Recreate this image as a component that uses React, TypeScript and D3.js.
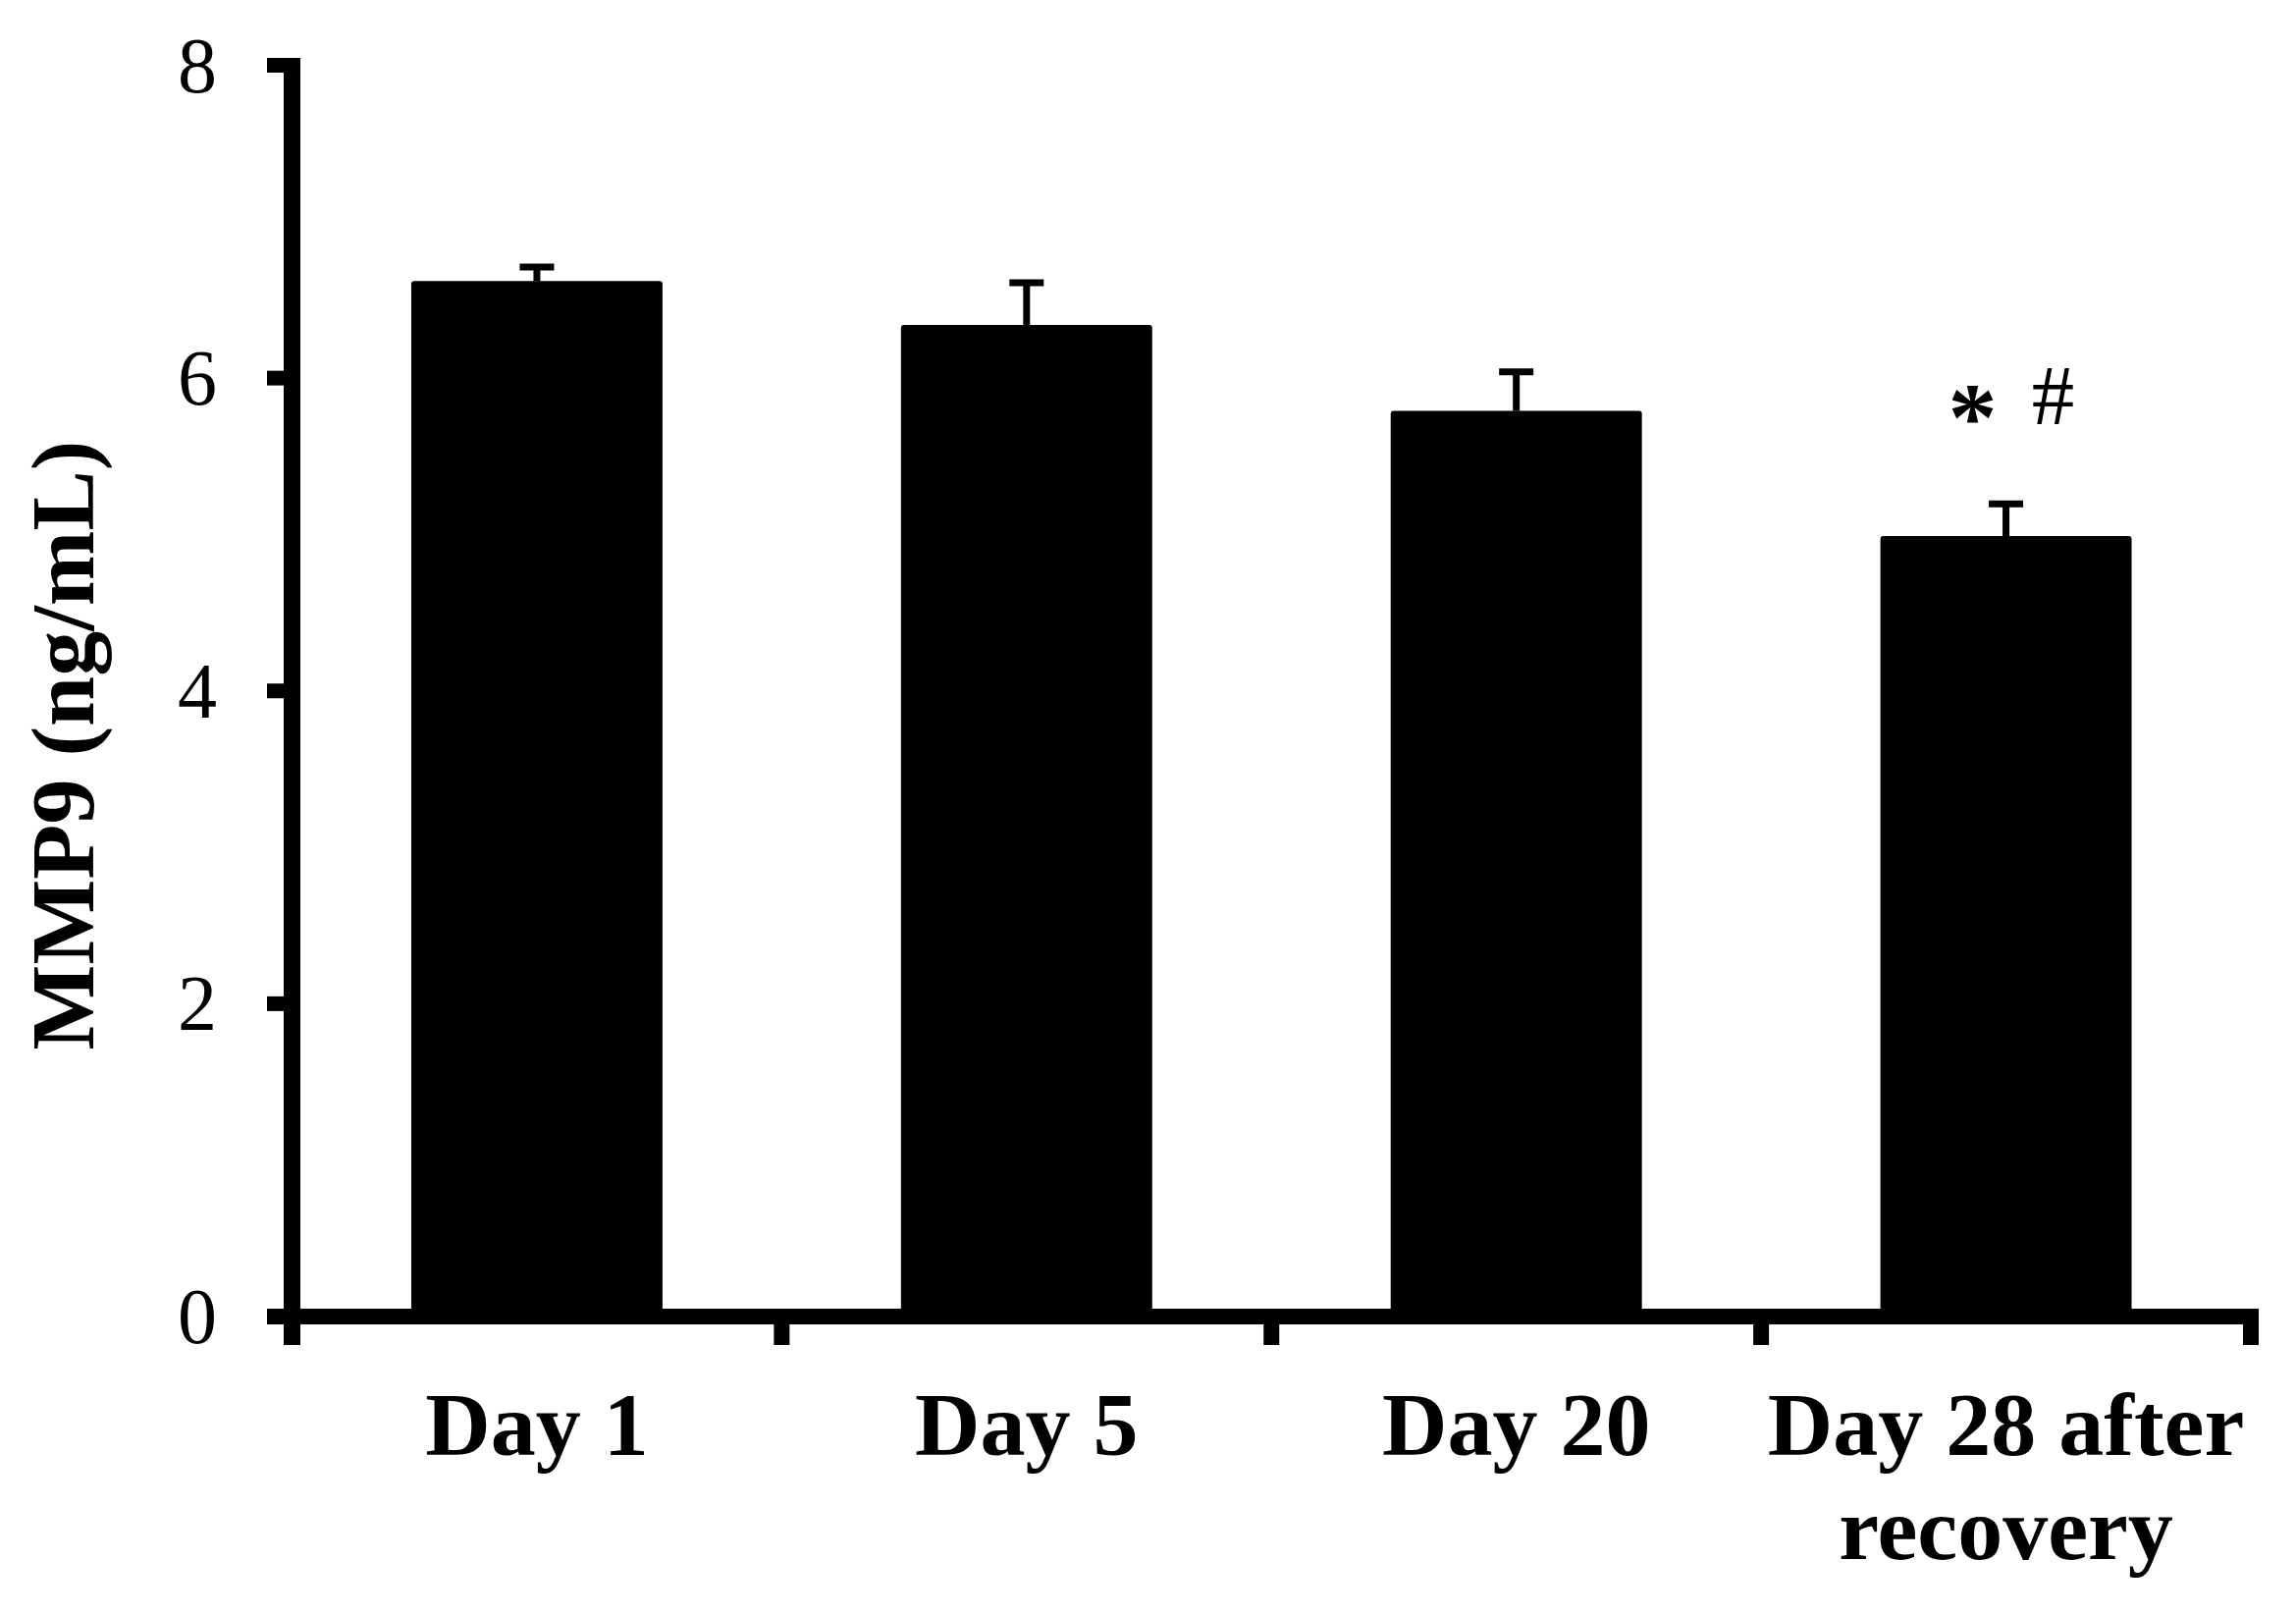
import React from "react";
import * as d3 from "d3";

const categories: string[][] = [["Day 1"], ["Day 5"], ["Day 20"], ["Day 28 after", "recovery"]];
const means: number[] = [6.62, 6.34, 5.79, 4.99];
const errors: number[] = [0.09, 0.27, 0.25, 0.205];
const yTicks: number[] = [0, 2, 4, 6, 8];
const yTitle = "MMP9 (ng/mL)";
const annotation = { index: 3, star: "*", hash: "#" };

const W = 2339;
const H = 1644;
const FONT = "'Liberation Serif', 'Times New Roman', serif";

export default function App() {
  const keys = categories.map((c, i) => String(i));
  const x = d3
    .scaleBand<string>()
    .domain(keys)
    .range([297.5, 2293])
    .paddingInner(0.487)
    .paddingOuter(0.2435);
  const step = x.step();
  const y = d3.scaleLinear().domain([0, 8]).range([1341, 66.5]);
  const boundaries = d3.range(categories.length + 1).map((i) => 297.5 + i * step);

  const annX = (x(String(annotation.index)) as number) + x.bandwidth() / 2;

  return (
    <svg
      width={W}
      height={H}
      viewBox={`0 0 ${W} ${H}`}
      style={{ position: "absolute", left: 0, top: 0, display: "block", background: "#fff" }}
    >
      <rect x={0} y={0} width={W} height={H} fill="#fff" />
      {/* bars */}
      {means.map((m, i) => {
        const bx = x(String(i)) as number;
        return (
          <rect
            key={"b" + i}
            x={bx}
            y={y(m)}
            width={x.bandwidth()}
            height={y(0) - y(m)}
            rx={3}
            fill="#000"
          />
        );
      })}
      {/* error bars */}
      {means.map((m, i) => {
        const cx = (x(String(i)) as number) + x.bandwidth() / 2;
        const top = y(m + errors[i]);
        return (
          <g key={"e" + i} stroke="#000" strokeWidth={7}>
            <line x1={cx} x2={cx} y1={y(m)} y2={top} />
            <line x1={cx - 17.5} x2={cx + 17.5} y1={top} y2={top} />
          </g>
        );
      })}
      {/* y axis */}
      <line x1={297.5} x2={297.5} y1={66.5 - 7.5} y2={1370} stroke="#000" strokeWidth={17} />
      {yTicks.map((t) => (
        <line key={"yt" + t} x1={272} x2={298} y1={y(t)} y2={y(t)} stroke="#000" strokeWidth={15} />
      ))}
      {yTicks.map((t) => (
        <text
          key={"yl" + t}
          x={221}
          y={y(t) + 27}
          textAnchor="end"
          fontFamily={FONT}
          fontSize={80}
          fill="#000"
        >
          {t}
        </text>
      ))}
      {/* x axis */}
      <line x1={272} x2={2301} y1={1341} y2={1341} stroke="#000" strokeWidth={16} />
      {boundaries.map((bx, i) => (
        <line key={"xt" + i} x1={bx} x2={bx} y1={1341} y2={1370} stroke="#000" strokeWidth={16} />
      ))}
      {/* x labels */}
      {categories.map((lines, i) => {
        const cx = (x(String(i)) as number) + x.bandwidth() / 2;
        return (
          <text
            key={"xl" + i}
            textAnchor="middle"
            fontFamily={FONT}
            fontWeight="bold"
            fontSize={92}
            fill="#000"
          >
            {lines.map((ln, j) => (
              <tspan key={j} x={cx} y={1482 + j * 106}>
                {ln}
              </tspan>
            ))}
          </text>
        );
      })}
      {/* y title */}
      <text
        transform={`translate(95, 759) rotate(-90)`}
        textAnchor="middle"
        fontFamily={FONT}
        fontWeight="bold"
        fontSize={92}
        fill="#000"
      >
        {yTitle}
      </text>
      {/* significance markers */}
      <text x={annX - 34} y={458} textAnchor="middle" fontFamily={FONT} fontWeight="bold" fontSize={100} fill="#000">
        {annotation.star}
      </text>
      <text x={annX + 48} y={432} textAnchor="middle" fontFamily={FONT} fontSize={87} fill="#000">
        {annotation.hash}
      </text>
    </svg>
  );
}
